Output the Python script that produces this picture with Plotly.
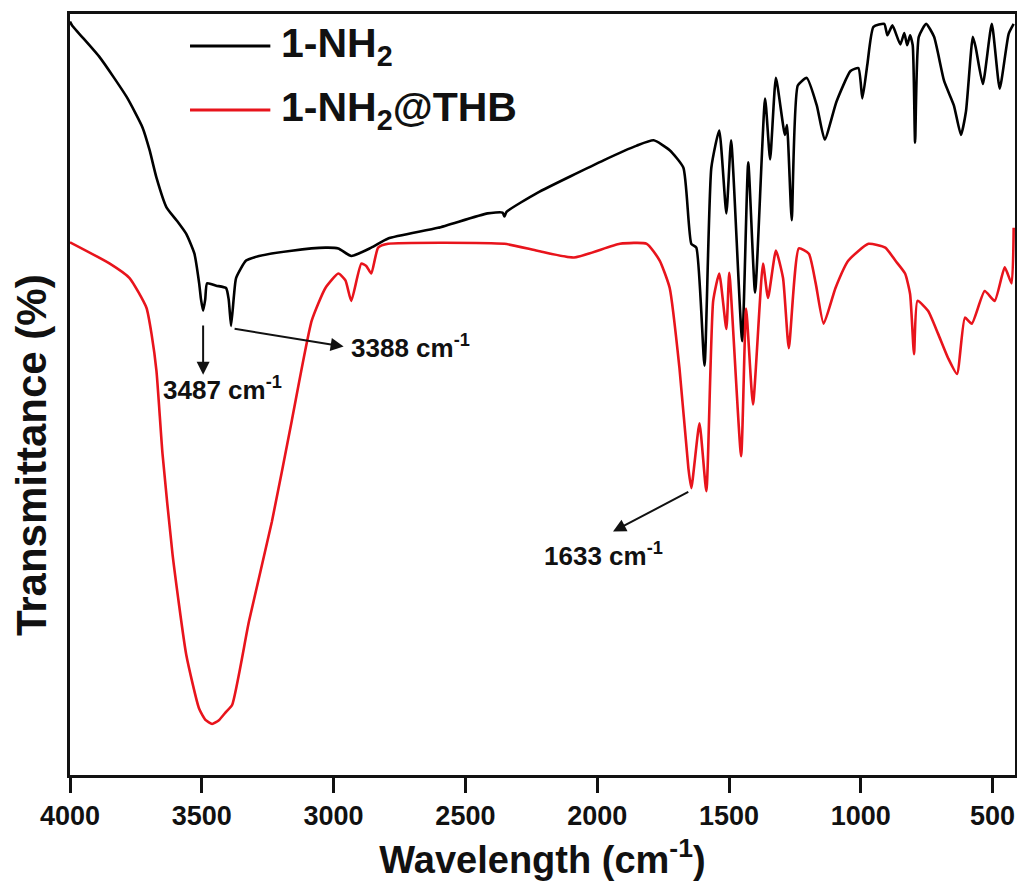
import plotly.graph_objects as go

# 1-NH2 (black) : wavenumber (cm-1) and transmittance (arb. %)
nh2_wn = [4000, 3992, 3887, 3785, 3725, 3698, 3672, 3634, 3596, 3559, 3528, 3510, 3503,
          3495, 3487, 3480, 3445, 3408, 3398, 3389, 3378, 3370, 3332, 3283, 3159, 3031,
          2982, 2933, 2857, 2793, 2604, 2416, 2359, 2352, 2344, 2227, 1974, 1850, 1786,
          1725, 1673, 1643, 1624, 1593, 1567, 1537, 1510, 1492, 1450, 1427, 1401, 1363,
          1344, 1322, 1288, 1280, 1262, 1239, 1205, 1167, 1137, 1092, 1039, 1009, 994,
          975, 952, 911, 899, 880, 850, 835, 824, 813, 803, 794, 780, 752, 722, 684, 647,
          620, 601, 575, 564, 537, 503, 473, 439, 420]
nh2_t = [99.0, 98.5, 94.3, 89.1, 85.1, 82.1, 78.5, 74.6, 72.9, 71.1, 68.5, 64.6, 62.5,
         61.0, 62.5, 64.6, 64.3, 64.0, 62.5, 59.0, 63.0, 65.3, 67.6, 68.2, 68.9, 69.3,
         69.2, 68.2, 69.3, 70.5, 71.9, 73.8, 73.9, 73.4, 74.0, 76.5, 80.8, 82.7, 83.4,
         82.1, 79.8, 69.8, 69.3, 53.8, 79.8, 84.7, 73.8, 83.4, 57.0, 80.5, 63.4, 88.9,
         80.9, 91.6, 84.1, 85.4, 72.9, 90.6, 91.6, 88.0, 83.5, 88.5, 92.5, 92.9, 88.9,
         93.4, 98.3, 98.7, 97.2, 98.5, 96.0, 97.5, 95.9, 97.2, 95.9, 83.1, 97.0, 98.7,
         97.0, 91.2, 88.0, 84.1, 87.2, 97.0, 95.6, 90.8, 98.7, 90.2, 97.4, 98.7]

# 1-NH2@THB (red)
thb_wn = [4000, 3849, 3774, 3710, 3690, 3672, 3649, 3611, 3559, 3510, 3485, 3461, 3435,
          3408, 3385, 3321, 3234, 3159, 3083, 3031, 2982, 2955, 2933, 2895, 2876, 2857,
          2831, 2793, 2352, 2227, 2088, 1914, 1812, 1763, 1725, 1688, 1654, 1643, 1612,
          1586, 1560, 1537, 1510, 1499, 1454, 1435, 1409, 1371, 1352, 1322, 1295, 1273,
          1235, 1197, 1171, 1141, 1096, 1047, 971, 907, 869, 832, 813, 798, 785, 745,
          707, 669, 635, 605, 579, 530, 492, 454, 428, 420]
thb_t = [70.0, 67.2, 65.3, 61.4, 57.8, 53.1, 42.2, 29.0, 15.8, 8.7, 7.2, 6.7, 7.2,
         8.3, 9.2, 20.2, 33.3, 46.5, 59.7, 64.0, 65.9, 65.0, 62.3, 67.2, 66.9, 65.9,
         69.3, 69.8, 69.8, 68.9, 68.0, 69.8, 69.8, 67.6, 64.0, 53.5, 40.3, 37.7, 46.2,
         37.3, 62.3, 65.9, 58.6, 66.0, 41.9, 61.3, 48.7, 67.2, 62.7, 68.9, 65.3, 56.1,
         69.2, 68.5, 64.6, 59.3, 64.0, 67.6, 69.8, 69.3, 67.6, 65.9, 63.2, 55.3, 62.3,
         61.0, 58.0, 54.8, 52.7, 60.1, 59.3, 63.6, 62.3, 66.7, 64.6, 71.9]

x_ticks = [4000, 3500, 3000, 2500, 2000, 1500, 1000, 500]
series_names = ["1-NH<sub>2</sub>", "1-NH<sub>2</sub>@THB"]
series_colors = ["#000000", "#e8141c"]

FONT = "Liberation Sans, Arial, sans-serif"
INK = "#111111"

fig = go.Figure()
fig.add_trace(go.Scatter(x=nh2_wn, y=nh2_t, mode="lines", name=series_names[0],
                         line=dict(color=series_colors[0], width=2.6, shape="spline", smoothing=0.5),
                         showlegend=False))
fig.add_trace(go.Scatter(x=thb_wn, y=thb_t, mode="lines", name=series_names[1],
                         line=dict(color=series_colors[1], width=2.6, shape="spline", smoothing=0.5),
                         showlegend=False))

# manual legend (long line samples)
legend_y = [0.958, 0.874]
for name, col, yy in zip(series_names, series_colors, legend_y):
    fig.add_shape(type="line", xref="paper", yref="paper", x0=0.127, x1=0.212,
                  y0=yy, y1=yy, line=dict(color=col, width=3))
    fig.add_annotation(xref="paper", yref="paper", x=0.221, y=yy, text=name,
                       showarrow=False, xanchor="left", yanchor="middle",
                       font=dict(family=FONT, size=41, color=INK, weight="bold"))

# peak annotations
ann_font = dict(family=FONT, size=26, color=INK, weight="bold")
arrow_kw = dict(showarrow=True, arrowhead=2, arrowsize=1.3, arrowwidth=2,
                arrowcolor=INK, axref="x", ayref="y", text=" ")
fig.add_annotation(x=3495, y=52.6, ax=3495, ay=60.2, **arrow_kw)
fig.add_annotation(x=2962, y=56.3, ax=3387, ay=58.7, **arrow_kw)
fig.add_annotation(x=1940, y=32.0, ax=1643, ay=37.4, **arrow_kw)
fig.add_annotation(x=3422, y=50.8, text="3487 cm<sup>-1</sup>", showarrow=False,
                   xanchor="center", yanchor="middle", font=ann_font)
fig.add_annotation(x=2942, y=56.3, text="3388 cm<sup>-1</sup>", showarrow=False,
                   xanchor="left", yanchor="middle", font=ann_font)
fig.add_annotation(x=1978, y=29.0, text="1633 cm<sup>-1</sup>", showarrow=False,
                   xanchor="center", yanchor="middle", font=ann_font)

# y-axis title placed as a rotated label left of the frame
fig.add_annotation(xref="paper", yref="paper", x=-0.0405, y=0.42, text="Transmittance (%)",
                   textangle=-90, showarrow=False, xanchor="center", yanchor="middle",
                   font=dict(family=FONT, size=42, color=INK, weight="bold"))

# the page body adds an 8 px offset and the visible width is ~1017 px
fig.update_layout(
    width=1009, height=876,
    margin=dict(l=62, r=2, t=6, b=109),
    paper_bgcolor="white", plot_bgcolor="white",
    font=dict(family=FONT, color=INK),
    xaxis=dict(range=[4000, 415], tickvals=x_ticks, automargin=False,
               showline=True, linecolor=INK, linewidth=3, mirror=True,
               ticks="outside", ticklen=15, tickwidth=3, tickcolor=INK,
               showgrid=False, zeroline=False,
               tickfont=dict(family=FONT, size=27, color=INK, weight="bold"),
               title=dict(text="Wavelength (cm<sup>-1</sup>)",
                          font=dict(family=FONT, size=38, color=INK, weight="bold"), standoff=16)),
    yaxis=dict(range=[0, 100], automargin=False, showline=True, linecolor=INK, linewidth=3, mirror=True,
               showticklabels=False, ticks="", showgrid=False, zeroline=False),
)

fig.write_html("out.html")
